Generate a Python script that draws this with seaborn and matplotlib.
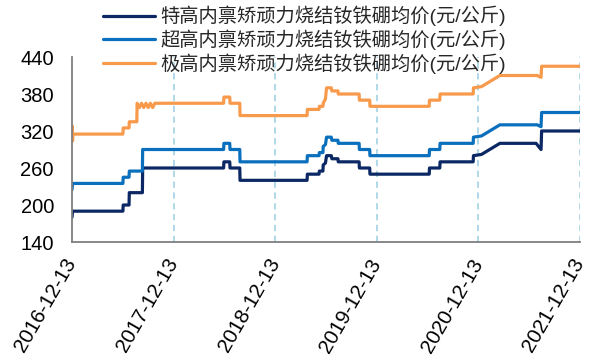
import matplotlib
matplotlib.use("Agg")
import matplotlib.pyplot as plt
import pandas as pd
import seaborn as sns

# Corner points of each price series (date, 元/公斤)
dates_tg = ["2016-12-13", "2016-12-15", "2017-06-14", "2017-06-15", "2017-07-06", "2017-07-07",
            "2017-08-23", "2017-08-24", "2018-06-11", "2018-06-12", "2018-07-03", "2018-07-04",
            "2018-08-08", "2018-08-09", "2019-04-07", "2019-04-08", "2019-05-20", "2019-05-21",
            "2019-06-03", "2019-06-04", "2019-06-12", "2019-06-16", "2019-07-03", "2019-07-05",
            "2019-07-27", "2019-07-28", "2019-10-11", "2019-10-12", "2019-11-18", "2019-11-19",
            "2020-06-19", "2020-06-20", "2020-07-27", "2020-07-28", "2020-11-24", "2020-11-25",
            "2020-12-24", "2021-02-28", "2021-07-08", "2021-07-26", "2021-07-28", "2021-12-13"]
vals_tg = [180, 190, 190, 200, 200, 220,
           220, 260, 260, 270, 270, 260,
           260, 240, 240, 250, 250, 255,
           255, 265, 268, 280, 280, 275,
           275, 270, 270, 260, 260, 250,
           250, 260, 260, 270, 270, 280,
           282, 300, 300, 290, 320, 320]

dates_cg = ["2016-12-13", "2016-12-15", "2017-06-14", "2017-06-15", "2017-07-06", "2017-07-07",
            "2017-08-23", "2017-08-24", "2018-06-11", "2018-06-12", "2018-07-03", "2018-07-04",
            "2018-08-08", "2018-08-09", "2019-04-07", "2019-04-08", "2019-05-20", "2019-05-21",
            "2019-06-03", "2019-06-04", "2019-06-12", "2019-06-16", "2019-07-03", "2019-07-05",
            "2019-07-27", "2019-07-28", "2019-10-11", "2019-10-12", "2019-11-18", "2019-11-19",
            "2020-06-19", "2020-06-20", "2020-07-27", "2020-07-28", "2020-11-24", "2020-11-25",
            "2020-12-24", "2021-02-28", "2021-07-12", "2021-07-26", "2021-07-28", "2021-12-13"]
vals_cg = [225, 235, 235, 245, 245, 255,
           255, 290, 290, 300, 300, 290,
           290, 270, 270, 280, 280, 285,
           285, 295, 298, 310, 310, 305,
           305, 300, 300, 290, 290, 280,
           280, 290, 290, 300, 300, 310,
           312, 330, 330, 327, 350, 350]

dates_jg = ["2016-12-13", "2016-12-14", "2016-12-15", "2016-12-16", "2017-06-14", "2017-06-15",
            "2017-07-06", "2017-07-07", "2017-08-03", "2017-08-04", "2017-08-12", "2017-08-20",
            "2017-08-28", "2017-09-05", "2017-09-13", "2017-09-21", "2017-09-29", "2017-10-07",
            "2017-10-18", "2018-06-11", "2018-06-12", "2018-07-03", "2018-07-04", "2018-08-08",
            "2018-08-09", "2019-04-07", "2019-04-08", "2019-05-20", "2019-05-21", "2019-06-03",
            "2019-06-04", "2019-06-12", "2019-06-16", "2019-07-03", "2019-07-05", "2019-07-27",
            "2019-07-28", "2019-10-11", "2019-10-12", "2019-11-18", "2019-11-19", "2020-06-19",
            "2020-06-20", "2020-07-27", "2020-07-28", "2020-11-24", "2020-11-25", "2020-12-24",
            "2021-02-28", "2021-07-12", "2021-07-26", "2021-07-28", "2021-12-13"]
vals_jg = [305, 328, 304, 315, 315, 325,
           325, 335, 335, 365, 358, 365,
           358, 365, 358, 365, 358, 365,
           365, 365, 375, 375, 365, 365,
           345, 345, 355, 355, 360, 360,
           365, 372, 390, 390, 385, 385,
           380, 380, 370, 370, 360, 360,
           370, 370, 380, 380, 390, 392,
           410, 410, 407, 425, 425]

labels = ["特高内禀矫顽力烧结钕铁硼均价(元/公斤)",
          "超高内禀矫顽力烧结钕铁硼均价(元/公斤)",
          "极高内禀矫顽力烧结钕铁硼均价(元/公斤)"]
colors = ["#0b2864", "#0a6fbd", "#f89a4c"]
xticks = ["2016-12-13", "2017-12-13", "2018-12-13", "2019-12-13", "2020-12-13", "2021-12-13"]
yticks = [140, 200, 260, 320, 380, 440]

frames = []
for lab, d, v in zip(labels, [dates_tg, dates_cg, dates_jg], [vals_tg, vals_cg, vals_jg]):
    frames.append(pd.DataFrame({"date": pd.to_datetime(d), "price": v, "series": lab}))
df = pd.concat(frames, ignore_index=True)

sns.set_theme(style="white")
plt.rcParams["font.family"] = ["Liberation Sans", "Noto Sans CJK SC"]

fig = plt.figure(figsize=(5.97, 3.60), dpi=100)
ax = fig.add_axes([72 / 597, 1 - 242 / 360, 508 / 597, 185 / 360])

sns.lineplot(data=df, x="date", y="price", hue="series", hue_order=labels,
             palette=colors, linewidth=2.3, ax=ax, legend=False, sort=False,
             estimator=None)

xt = pd.to_datetime(xticks)
ax.set_xlim(xt[0], xt[-1])
ax.set_ylim(140, 440)
ax.set_xticks(xt)
ax.set_xticklabels(xticks)
ax.set_yticks(yticks)
ax.set_xlabel("")
ax.set_ylabel("")

for x in xt[1:]:
    ax.axvline(x, color="#a9d6e5", linestyle=(0, (3.5, 2.5)), linewidth=1.3, zorder=0)

for s in ["top", "right"]:
    ax.spines[s].set_visible(False)
for s in ["left", "bottom"]:
    ax.spines[s].set_color("#7f7f7f")
    ax.spines[s].set_linewidth(1.3)

ax.tick_params(axis="both", direction="in", length=5, width=1.2, color="#7f7f7f",
               labelsize=14.5, labelcolor="#000000")
ax.tick_params(axis="y", pad=13)
ax.tick_params(axis="x", pad=13, labelsize=14.8)
for t in ax.get_xticklabels():
    t.set_rotation(60)
    t.set_ha("right")
    t.set_va("center")
    t.set_rotation_mode("anchor")

handles = [plt.Line2D([], [], color=c, linewidth=2.3) for c in colors]
fig.legend(handles, labels, loc="upper left", bbox_to_anchor=(103 / 597, 1 - 6 / 360),
           frameon=False, fontsize=13.9, handlelength=2.7, handletextpad=0.27,
           labelspacing=0.16, borderpad=0, borderaxespad=0)

fig.savefig("out.png", dpi=100)
